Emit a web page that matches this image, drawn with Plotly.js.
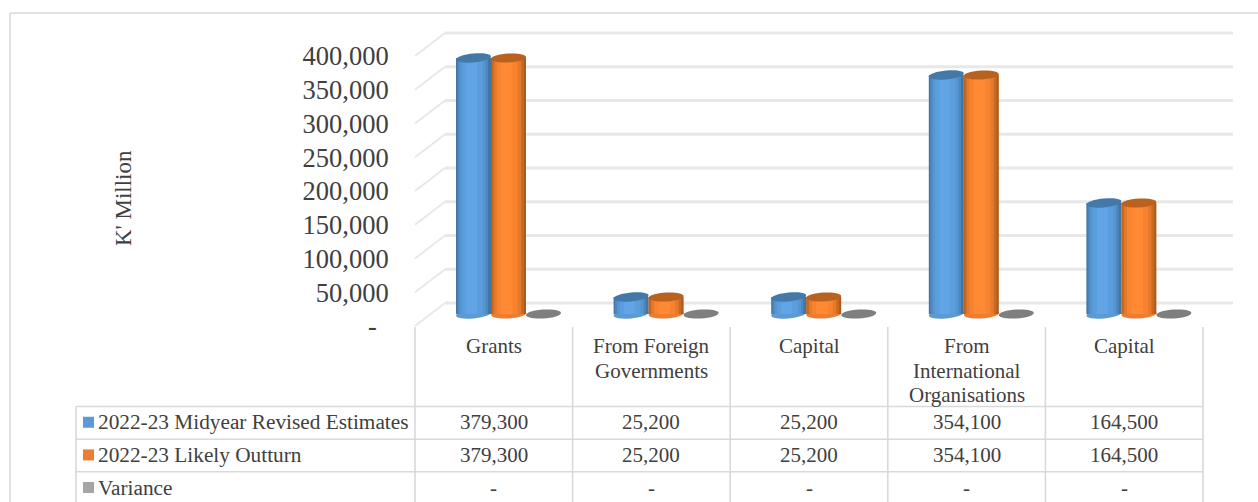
<!DOCTYPE html>
<html><head><meta charset="utf-8">
<script src="https://cdn.plot.ly/plotly-3.0.1.min.js"></script>
<style>html,body{margin:0;padding:0;background:#fff;overflow:hidden}</style>
</head><body><div id="chart" style="width:1258px;height:502px"></div>
<script>
// ---- data ----
const categories = [["Grants"], ["From Foreign", "Governments"], ["Capital"], ["From", "International", "Organisations"], ["Capital"]];
const seriesNames = ["2022-23 Midyear Revised Estimates", "2022-23 Likely Outturn", "Variance"];
const midyearRevised = [379300, 25200, 25200, 354100, 164500];
const likelyOutturn = [379300, 25200, 25200, 354100, 164500];
const variance = [0, 0, 0, 0, 0];
const yTickVals = [0, 50000, 100000, 150000, 200000, 250000, 300000, 350000, 400000];
const yTickText = ["-\u00a0\u2009", "50,000", "100,000", "150,000", "200,000", "250,000", "300,000", "350,000", "400,000"];

// ---- layout constants (pixels) ----
const W = 1258, H = 502;
const plotL = 415, plotR = 1233, cellW = 157.6, tableR = 1203;
const firstCentre = 508.5, barPx = 35;
const frontZero = 326, basePx = 314, pxPerUnit = 270 / 400000, depthX = 30, depthY = 23;
const TXT = "#404040", LINE = "#d9d9d9", GRID = "#e8e8e8";
const SERIF = "'Liberation Serif', serif";
const swatch = ["#5b9bd5", "#ed7d31", "#a5a5a5"];
const capCol = ["#4279a9", "#b9611f", "#7f7f7f"];
const tilt = [0.09, 0.05, 0.06];
const shades = [
  [["#44749f",0,1],["#4c88bf",0.04,0.92],["#5595d0",0.1,0.85],["#5b9edd",0.18,0.76],["#62a5e6",0.3,0.6]],
  [["#ad5a1f",0,1],["#c9691f",0.02,0.94],["#e47a2b",0.08,0.86],["#f78230",0.16,0.76],["#ff8a33",0.28,0.62]]
];

const toX = px => (px - firstCentre) / cellW;
const xpaper = px => px / W, ypaper = py => 1 - py / H;
const rangeFor = zero => [(zero - H) / pxPerUnit, zero / pxPerUnit];
const money = v => v === 0 ? "-" : v.toLocaleString("en-US");
const allSeries = [midyearRevised, likelyOutturn, variance];
const idx = categories.map((_, i) => i);

const traces = [];
const shapes = [];
const annotations = [];

// tilted ellipse outline in data units, centred on a category slot and value
const ellipsePath = (xc, v, ang) => {
  const a = barPx / 2 / cellW, b = 4.5 / pxPerUnit, ax = barPx / 2 * ang / pxPerUnit;
  let d = "";
  for (let k = 0; k < 32; k++) {
    const t = k / 32 * 2 * Math.PI;
    const x = xc + a * Math.cos(t), y = v + b * Math.sin(t) + ax * Math.cos(t);
    d += (k ? "L" : "M") + x + "," + y + " ";
  }
  return d + "Z";
};

// cylinders
allSeries.forEach((vals, s) => {
  const left = (s - 1.5) * barPx;
  (shades[s] || [[swatch[s],0,1]]).forEach(([col, a, b]) => {
    traces.push({
      type: "bar", x: idx, y: vals, yaxis: "y2", xaxis: "x",
      width: (b - a) * barPx / cellW, offset: (left + a * barPx) / cellW,
      marker: {color: col, line: {width: 0}}, hoverinfo: "skip", showlegend: false
    });
  });
  vals.forEach((v, i) => {
    const xc = i + (left + barPx / 2) / cellW;
    if (s < 2) shapes.push({type: "path", xref: "x", yref: "y2", path: ellipsePath(xc, 0, tilt[s]), layer: "below",
      fillcolor: swatch[s], line: {width: 0}});
    shapes.push({type: "path", xref: "x", yref: "y2", path: ellipsePath(xc, v, tilt[s]), layer: "above",
      fillcolor: capCol[s], line: {width: 0}});
  });
});

// wall grid
const depthVal = depthY / pxPerUnit;
yTickVals.forEach(t => {
  shapes.push({type: "line", xref: "paper", yref: "y", x0: xpaper(plotL + depthX), x1: xpaper(plotR),
    y0: t + depthVal, y1: t + depthVal, layer: "below", line: {color: GRID, width: 3}});
  shapes.push({type: "line", xref: "paper", yref: "y", x0: xpaper(plotL), x1: xpaper(plotL + depthX),
    y0: t, y1: t + depthVal, layer: "below", line: {color: GRID, width: 2}});
});

// frame and table lines
const pline = (x0, y0, x1, y1, w) => shapes.push({type: "line", xref: "paper", yref: "paper",
  x0: xpaper(x0), x1: xpaper(x1), y0: ypaper(y0), y1: ypaper(y1), layer: "below", line: {color: LINE, width: w || 1.6}});
pline(10, 13, W, 13);
pline(10, 13, 10, H);
const rowY = [406.5, 439.2, 471.8];
rowY.forEach(y => pline(76, y, tableR, y));
pline(76, rowY[0], 76, H);
categories.forEach((_, i) => pline(plotL + i * cellW, 327, plotL + i * cellW, H));
pline(tableR, 327, tableR, H);

const text = (str, x, y, size, xanchor, yanchor, extra) => annotations.push(Object.assign({
  text: str, xref: "paper", yref: "paper", x: xpaper(x), y: ypaper(y), showarrow: false,
  xanchor, yanchor, font: {family: SERIF, size, color: TXT}, borderpad: 0, borderwidth: 0
}, extra || {}));

// category cells, one annotation per line to hold the tight leading
categories.forEach((lines, i) => lines.forEach((ln, k) =>
  text(ln, plotL + (i + 0.5) * cellW, 346.2 + k * 24.6, 21, "center", "middle")));

// data table rows
allSeries.forEach((vals, s) => {
  const cy = (rowY[s] + (rowY[s + 1] || rowY[2] + 32.6)) / 2 - 0.6;
  shapes.push({type: "rect", xref: "paper", yref: "paper", x0: xpaper(83), x1: xpaper(94),
    y0: ypaper(cy - 5.5), y1: ypaper(cy + 5.5), fillcolor: swatch[s], line: {width: 0}});
  text(seriesNames[s], 98, cy, 21.3, "left", "middle");
  vals.forEach((v, i) => text(money(v), plotL + (i + 0.5) * cellW, cy, 21, "center", "middle"));
});

text("K' Million", 123, 198, 23, "center", "middle", {textangle: -90});

Plotly.newPlot("chart", traces, {
  width: W, height: H, margin: {l: 0, r: 0, t: 0, b: 0}, paper_bgcolor: "#fff", plot_bgcolor: "rgba(0,0,0,0)",
  barmode: "overlay", showlegend: false, shapes, annotations,
  xaxis: {domain: [xpaper(plotL), xpaper(plotR)], range: [toX(plotL), toX(plotR)], visible: false, fixedrange: true},
  yaxis: {domain: [0, 1], range: rangeFor(frontZero), tickmode: "array", tickvals: yTickVals, ticktext: yTickText,
    showgrid: false, zeroline: false, showline: false, ticks: "outside", ticklen: 20, tickcolor: "rgba(0,0,0,0)",
    tickfont: {family: SERIF, size: 26.5, color: TXT}, automargin: false, fixedrange: true},
  yaxis2: {domain: [0, 1], overlaying: "y", range: rangeFor(basePx), visible: false, fixedrange: true}
}, {staticPlot: true, displayModeBar: false});
</script></body></html>
